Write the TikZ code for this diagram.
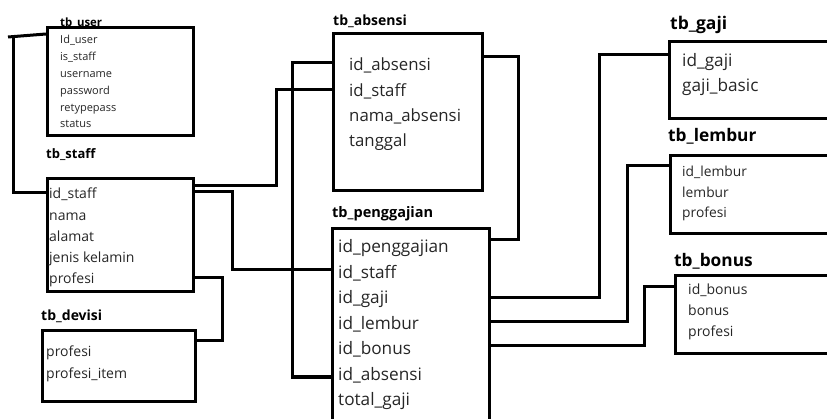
\documentclass[tikz,border=0pt]{standalone}
\usepackage{fontspec}
\setmainfont{Open Sans}
\begin{document}
\begin{tikzpicture}[x=1pt,y=-1pt,
  tbl/.style={draw=black, line width=3pt, rectangle, anchor=north west, inner sep=0pt},
  ttl/.style={anchor=base west, inner sep=0pt, font=\bfseries\fontsize{#1}{#1}\selectfont},
  fld/.style={anchor=base west, inner sep=0pt, text=black!85, font=\fontsize{#1}{#1}\selectfont},
  conn/.style={draw=black, line width=3pt}]
\useasboundingbox (0,0) rectangle (827,419);
\clip (0,0) rectangle (827,419);

% titles
\node[ttl=11.4] (t-user) at (60,27) {tb\_user};
\node[ttl=13] (t-staff) at (46,159) {tb\_staff};
\node[ttl=14] (t-devisi) at (41,321) {tb\_devisi};
\node[ttl=14] (t-absensi) at (333,26) {tb\_absensi};
\node[ttl=14.5] (t-pg) at (332,218) {tb\_penggajian};
\node[ttl=17.5] (t-gaji) at (670,30) {tb\_gaji};
\node[ttl=17.3] (t-lembur) at (668,142) {tb\_lembur};
\node[ttl=17.3] (t-bonus) at (674,267) {tb\_bonus};

% boxes
\node[tbl, minimum width=146pt, minimum height=108pt] (user) at (46,26) {};
\node[tbl, minimum width=146pt, minimum height=113pt] (staff) at (46,177) {};
\node[tbl, minimum width=153pt, minimum height=71pt] (devisi) at (41,329) {};
\node[tbl, minimum width=149pt, minimum height=157pt] (absensi) at (332,32) {};
\node[tbl, minimum width=157pt, minimum height=213pt] (pg) at (331,227) {};
\node[tbl, minimum width=175pt, minimum height=77pt] (gaji) at (668,40) {};
\node[tbl, minimum width=175pt, minimum height=78pt] (lembur) at (669,154) {};
\node[tbl, minimum width=175pt, minimum height=78pt] (bonus) at (674,274) {};

% fields
\foreach \t [count=\i from 0] in {Id\_user,is\_staff,username,password,retypepass,status}
  \node[fld=11, name=uf\i] at (60,44+16.8*\i) {\t};
\foreach \t [count=\i from 0] in {id\_staff,nama,alamat,jenis kelamin,profesi}
  \node[fld=14, name=sf\i] at (49,199+21.2*\i) {\t};
\foreach \t [count=\i from 0] in {profesi,profesi\_item}
  \node[fld=14, name=df\i] at (46,357+21*\i) {\t};
\foreach \t [count=\i from 0] in {id\_absensi,id\_staff,nama\_absensi,tanggal}
  \node[fld=16.8, name=af\i] at (349,71+25.3*\i) {\t};
\foreach \t [count=\i from 0] in {id\_penggajian,id\_staff,id\_gaji,id\_lembur,id\_bonus,id\_absensi,total\_gaji}
  \node[fld=17.2, name=pf\i] at (338,253+25.5*\i) {\t};
\foreach \t [count=\i from 0] in {id\_gaji,gaji\_basic}
  \node[fld=17.2, name=gf\i] at (682,67+25*\i) {\t};
\foreach \t [count=\i from 0] in {id\_lembur,lembur,profesi}
  \node[fld=13.8, name=lf\i] at (682,177+20.5*\i) {\t};
\foreach \t [count=\i from 0] in {id\_bonus,bonus,profesi}
  \node[fld=14, name=bf\i] at (688,295+21*\i) {\t};

% bend coordinates
\coordinate (u1) at (8,37);
\coordinate (u2) at (13,36);
\coordinate (us) at (13,193);
\coordinate (sa1) at (276,186);
\coordinate (sa2) at (276,90);
\coordinate (sp1) at (232,192);
\coordinate (sp2) at (232,270);
\coordinate (sd1) at (222,278);
\coordinate (sd2) at (222,341);
\coordinate (ap1) at (292,63);
\coordinate (ap2) at (292,377);
\coordinate (ar1) at (518,57);
\coordinate (ar2) at (518,240);
\coordinate (pgg1) at (599,298);
\coordinate (pgg2) at (599,55);
\coordinate (pgl1) at (627,322);
\coordinate (pgl2) at (627,166);
\coordinate (pgb1) at (644,346);
\coordinate (pgb2) at (644,287);

% connectors
\draw[conn] (user.west |- 0,34) -- (u1);
\draw[conn] (u2) -- (us) -- (staff.west |- us);
\draw[conn] (staff.east |- sa1) -- (sa1) -- (sa2) -- (absensi.west |- sa2);
\draw[conn] (staff.east |- sp1) -- (sp1) -- (sp2) -- (pg.west |- sp2);
\draw[conn] (staff.east |- sd1) -- (sd1) -- (sd2) -- (devisi.east |- sd2);
\draw[conn] (absensi.west |- ap1) -- (ap1) -- (ap2) -- (pg.west |- ap2);
\draw[conn] (absensi.east |- ar1) -- (ar1) -- (ar2) -- (pg.east |- ar2);
\draw[conn] (pg.east |- pgg1) -- (pgg1) -- (pgg2) -- (gaji.west |- pgg2);
\draw[conn] (pg.east |- pgl1) -- (pgl1) -- (pgl2) -- (lembur.west |- pgl2);
\draw[conn] (pg.east |- pgb1) -- (pgb1) -- (pgb2) -- (bonus.west |- pgb2);
\end{tikzpicture}
\end{document}
